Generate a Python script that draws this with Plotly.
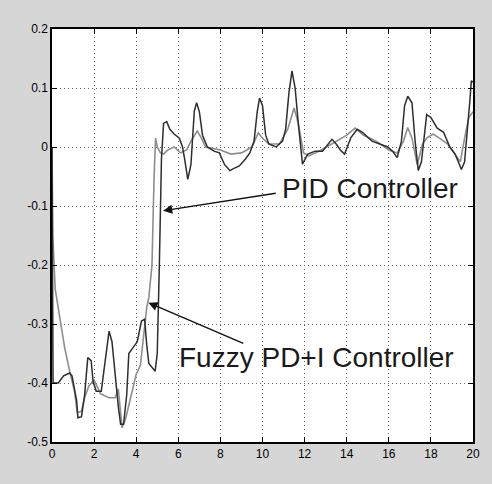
import plotly.graph_objects as go

# ---- data ----
pid_t = [0, 0.05, 0.3, 0.55, 0.84, 0.95, 1.17, 1.23, 1.4, 1.55, 1.7, 1.86, 1.95, 2.1, 2.34, 2.5,
         2.71, 2.85, 3.0, 3.15, 3.26, 3.4, 3.55, 3.65, 3.85, 4.05, 4.25, 4.4, 4.5, 4.6, 4.9, 5.0,
         5.1, 5.2, 5.3, 5.45, 5.6, 5.8, 6.05, 6.2, 6.3, 6.45, 6.6, 6.76, 6.87, 7.0, 7.15, 7.38,
         7.7, 7.95, 8.2, 8.45, 8.6, 8.9, 9.2, 9.4, 9.6, 9.75, 9.86, 10.0, 10.15, 10.3, 10.65,
         10.95, 11.1, 11.25, 11.4, 11.55, 11.7, 11.9, 12.15, 12.5, 12.85, 13.1, 13.3, 13.5, 13.7,
         13.9, 14.2, 14.5, 14.75, 15.2, 15.6, 15.95, 16.2, 16.4, 16.6, 16.75, 16.9, 17.1, 17.25,
         17.4, 17.55, 17.8, 18.0, 18.3, 18.6, 18.9, 19.15, 19.45, 19.6, 19.75, 19.85, 19.92, 20.0]
pid_v = [0, -0.4, -0.4, -0.388, -0.383, -0.388, -0.43, -0.459, -0.457, -0.42, -0.357, -0.362,
         -0.397, -0.414, -0.414, -0.37, -0.312, -0.33, -0.39, -0.44, -0.47, -0.47, -0.42, -0.35,
         -0.34, -0.33, -0.295, -0.292, -0.335, -0.367, -0.38, -0.35, -0.2, -0.02, 0.04, 0.043,
         0.03, 0.022, 0.015, 0.0, -0.02, -0.055, -0.03, 0.061, 0.075, 0.06, 0.02, 0.0, -0.007,
         -0.01, -0.03, -0.04, -0.037, -0.032, -0.02, -0.01, 0.01, 0.06, 0.083, 0.07, 0.02, 0.005,
         0.0, 0.01, 0.03, 0.09, 0.129, 0.1, 0.04, -0.029, -0.012, -0.007, -0.007, 0.005, 0.013,
         0.005, -0.005, -0.012, 0.016, 0.03, 0.025, 0.01, 0.005, 0.0, -0.008, -0.018, 0.01, 0.07,
         0.086, 0.075, 0.01, -0.04, -0.025, 0.055, 0.05, 0.032, 0.025, 0.0, -0.012, -0.038,
         -0.025, 0.03, 0.078, 0.112, 0.11]

fuzzy_t = [0, 0.04, 0.15, 0.37, 0.6, 0.84, 1.07, 1.2, 1.4, 1.55, 1.75, 2.0, 2.3, 2.7, 3.0, 3.15,
           3.33, 3.5, 3.8, 4.0, 4.2, 4.35, 4.5, 4.6, 4.75, 4.85, 4.92, 5.0, 5.15, 5.3, 5.5, 5.8,
           6.1, 6.4, 6.6, 6.9, 7.1, 7.3, 7.6, 8.0, 8.5, 9.0, 9.5, 9.8, 10.0, 10.3, 10.8, 11.2,
           11.5, 11.7, 11.95, 12.2, 12.8, 13.5, 14.0, 14.4, 14.8, 15.4, 16.0, 16.4, 16.7, 16.9,
           17.1, 17.35, 17.6, 17.8, 18.1, 18.4, 18.8, 19.2, 19.4, 19.6, 19.8, 20.0]
fuzzy_v = [0, -0.15, -0.24, -0.29, -0.34, -0.38, -0.414, -0.45, -0.448, -0.425, -0.405, -0.395,
           -0.418, -0.425, -0.425, -0.41, -0.476, -0.46, -0.414, -0.385, -0.37, -0.32, -0.272,
           -0.255, -0.2, -0.05, 0.015, 0.0, -0.01, -0.012, -0.005, 0.0, -0.01, -0.005, 0.01,
           0.027, 0.015, 0.0, -0.002, -0.005, -0.012, -0.01, 0.0, 0.024, 0.015, 0.005, 0.005,
           0.03, 0.066, 0.04, -0.01, -0.015, -0.005, 0.01, 0.02, 0.032, 0.02, 0.01, -0.005, -0.01,
           0.01, 0.033, 0.015, -0.03, 0.005, 0.015, 0.022, 0.015, 0.005, -0.015, -0.025, 0.015,
           0.05, 0.06]

x_ticks = [0, 2, 4, 6, 8, 10, 12, 14, 16, 18, 20]
x_tick_labels = ["0", "2", "4", "6", "8", "10", "12", "14", "16", "18", "20"]
y_ticks = [0.2, 0.1, 0, -0.1, -0.2, -0.3, -0.4, -0.5]
y_tick_labels = ["0.2", "0.1", "0", "-0.1", "-0.2", "-0.3", "-0.4", "-0.5"]

labels = ["PID Controller", "Fuzzy PD+I Controller"]
arrow_head = [(5.28, -0.108), (4.58, -0.264)]
arrow_tail = [(10.7, -0.078), (9.16, -0.334)]
label_pos = [(15.1, -0.07), (12.55, -0.357)]

fig = go.Figure()
fig.add_trace(go.Scatter(x=fuzzy_t, y=fuzzy_v, mode="lines", name=labels[1],
                         line=dict(color="#8e8e8e", width=1.6)))
fig.add_trace(go.Scatter(x=pid_t, y=pid_v, mode="lines", name=labels[0],
                         line=dict(color="#2e2e2e", width=1.5)))

for (hx, hy), (tx, ty) in zip(arrow_head, arrow_tail):
    fig.add_annotation(x=hx, y=hy, ax=tx, ay=ty, xref="x", yref="y", axref="x", ayref="y",
                       text="", showarrow=True, arrowhead=2, arrowsize=1.3, arrowwidth=1.4,
                       arrowcolor="#111111")
for txt, (lx, ly) in zip(labels, label_pos):
    fig.add_annotation(x=lx, y=ly, xref="x", yref="y", text=txt, showarrow=False,
                       font=dict(family="Liberation Sans, Arial, sans-serif", size=28,
                                 color="#1a1a1a"),
                       xanchor="center", yanchor="middle")

axis_common = dict(showline=True, linecolor="black", linewidth=1.5, mirror="ticks",
                   ticks="inside", ticklen=5, tickcolor="black", tickwidth=1,
                   showgrid=True, gridcolor="#666666", griddash="1px,3px", gridwidth=1,
                   zeroline=False,
                   tickfont=dict(family="Liberation Sans, Arial, sans-serif", size=12,
                                 color="black"))
fig.update_xaxes(range=[0, 20], tickvals=x_ticks, ticktext=x_tick_labels, **axis_common)
fig.update_yaxes(range=[-0.5, 0.2], tickvals=y_ticks, ticktext=y_tick_labels, **axis_common)

fig.update_layout(width=492, height=484, margin=dict(l=52, r=12, t=29, b=42),
                  paper_bgcolor="#d6d6d6", plot_bgcolor="white", showlegend=False)

fig.write_html("out.html")
